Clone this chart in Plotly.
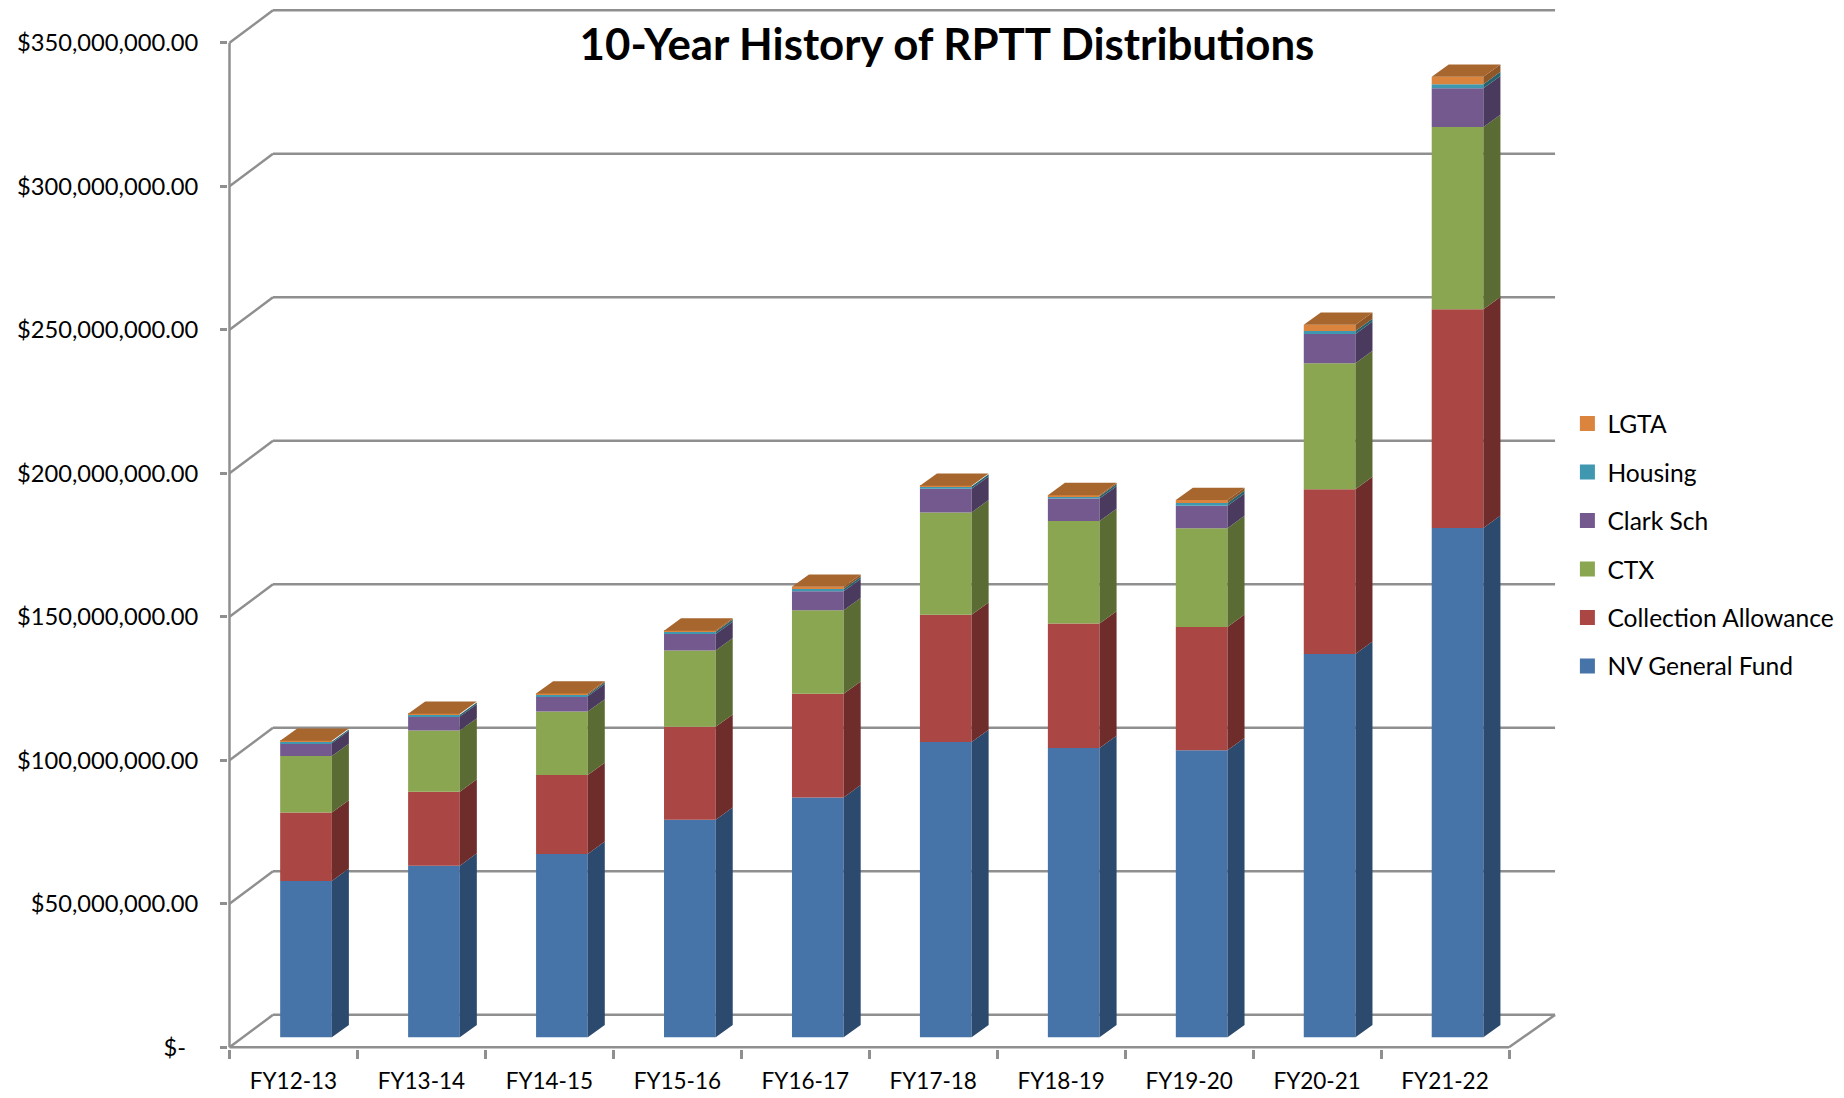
import plotly.graph_objects as go

categories = ["FY12-13", "FY13-14", "FY14-15", "FY15-16", "FY16-17",
              "FY17-18", "FY18-19", "FY19-20", "FY20-21", "FY21-22"]

# Values in millions of dollars
nv_general_fund = [54.5, 59.8, 63.9, 75.8, 83.6, 102.9, 100.8, 100.0, 133.6, 177.5]
collection_allowance = [23.8, 25.8, 27.5, 32.4, 36.1, 44.3, 43.4, 43.0, 57.4, 76.2]
ctx = [19.7, 21.3, 22.1, 26.6, 29.1, 35.7, 35.7, 34.4, 43.9, 63.5]
clark_sch = [4.5, 4.9, 5.3, 5.7, 6.6, 8.2, 7.8, 7.8, 10.2, 13.5]
housing = [0.5, 0.6, 0.6, 0.8, 0.8, 0.8, 0.8, 1.0, 1.0, 1.4]
lgta = [0.3, 0.3, 0.4, 0.4, 0.8, 0.3, 0.4, 1.0, 2.2, 2.6]

series_names = ["NV General Fund", "Collection Allowance", "CTX", "Clark Sch", "Housing", "LGTA"]
series_values = [nv_general_fund, collection_allowance, ctx, clark_sch, housing, lgta]
front_colors = ["#4673A8", "#AA4643", "#8AA650", "#74598F", "#3F98AF", "#DB843D"]
side_colors = ["#2C4A6E", "#6E2D2B", "#5A6C33", "#4A3A5E", "#27626F", "#8F5628"]
top_color = "#A8662F"

axis_values = [0, 50, 100, 150, 200, 250, 300, 350]
axis_labels = ["$-\u00a0\u00a0", "$50,000,000.00", "$100,000,000.00", "$150,000,000.00",
               "$200,000,000.00", "$250,000,000.00", "$300,000,000.00", "$350,000,000.00"]

M = 1e6
GRID = "#8F8F8F"
FONT = "Lato, 'Open Sans', sans-serif"
WALL_DX, WALL_DY = 0.34, 11.3 * M
WALL_END = 10.36
BAR_LEFT, BAR_WIDTH = 0.396, 0.404
BAR_DX, BAR_DY = 0.133, 4.29 * M
BAR_LIFT = 3.48 * M

fig = go.Figure()
n = len(categories)
bases = [BAR_LIFT] * n

for name, vals, fc, sc in zip(series_names, series_values, front_colors, side_colors):
    vals_d = [v * M for v in vals]
    fig.add_trace(go.Bar(
        x=[i + BAR_LEFT + BAR_WIDTH / 2 for i in range(n)], y=vals_d, base=bases,
        width=BAR_WIDTH, marker=dict(color=fc, line=dict(width=0)),
        name=name, legendgroup=name, showlegend=False,
    ))
    sx, sy = [], []
    for i in range(n):
        xr = i + BAR_LEFT + BAR_WIDTH
        y0, y1 = bases[i], bases[i] + vals_d[i]
        sx += [xr, xr + BAR_DX, xr + BAR_DX, xr, xr, None]
        sy += [y0, y0 + BAR_DY, y1 + BAR_DY, y1, y0, None]
    fig.add_trace(go.Scatter(
        x=sx, y=sy, mode="lines", fill="toself", fillcolor=sc, line=dict(width=0),
        hoverinfo="skip", showlegend=False, legendgroup=name,
    ))
    bases = [b + d for b, d in zip(bases, vals_d)]

tx, ty = [], []
for i in range(n):
    xl = i + BAR_LEFT
    xr = xl + BAR_WIDTH
    y = bases[i]
    tx += [xl, xr, xr + BAR_DX, xl + BAR_DX, xl, None]
    ty += [y, y, y + BAR_DY, y + BAR_DY, y, None]
fig.add_trace(go.Scatter(
    x=tx, y=ty, mode="lines", fill="toself", fillcolor=top_color, line=dict(width=0),
    hoverinfo="skip", showlegend=False, legendgroup="LGTA",
))

# Legend entries, top to bottom
for name, fc in reversed(list(zip(series_names, front_colors))):
    fig.add_trace(go.Scatter(
        x=[None], y=[None], mode="markers", name=name, legendgroup=name,
        marker=dict(symbol="square", size=15, color=fc, line=dict(width=0)),
    ))

# Walls, floor and gridlines
line = dict(color=GRID, width=2.5)
shapes = []
def seg(x0, y0, x1, y1):
    shapes.append(dict(type="line", xref="x", yref="y", x0=x0, y0=y0, x1=x1, y1=y1,
                       line=line, layer="below"))
for v in axis_values:
    seg(0, v * M, WALL_DX, v * M + WALL_DY)
    seg(WALL_DX, v * M + WALL_DY, WALL_END, v * M + WALL_DY)
seg(0, 0, 0, axis_values[-1] * M)
seg(0, 0, 10, 0)
seg(10, 0, WALL_END, WALL_DY)

L, R, T, B = 228, 1565, 5, 1049
PX_X = 127.95
PX_Y = 143.5 / (50 * M)
fig.update_layout(
    width=1844, height=1098, autosize=False,
    margin=dict(l=L, r=1844 - R, t=T, b=1098 - B, pad=0),
    paper_bgcolor="white", plot_bgcolor="white",
    barmode="overlay", shapes=shapes,
    font=dict(family=FONT, size=23.7, color="black"),
    title=dict(text="<b>10-Year History of RPTT Distributions</b>",
               font=dict(family=FONT, size=43.8, color="black"),
               x=947 / 1844, xref="container", xanchor="center",
               y=1 - 45 / 1098, yref="container", yanchor="middle"),
    xaxis=dict(range=[(L - 229.5) / PX_X, (R - 229.5) / PX_X], showgrid=False, zeroline=False,
               showline=False, tickmode="array", tickvals=[i + 0.5 for i in range(n)],
               ticktext=categories, ticks="", ticklabelstandoff=16, automargin=False,
               tickfont=dict(size=22.5),
               minor=dict(tickmode="array", tickvals=list(range(n + 1)), ticks="outside",
                          ticklen=9, tickwidth=2.5, tickcolor=GRID, showgrid=False)),
    yaxis=dict(range=[(1047.3 - B) / PX_Y, (1047.3 - T) / PX_Y], showgrid=False, zeroline=False,
               showline=False, tickmode="array", tickvals=[v * M for v in axis_values],
               ticktext=axis_labels, ticks="outside", ticklen=7, tickwidth=2.5, tickcolor=GRID,
               ticklabelstandoff=17, automargin=False, tickfont=dict(size=23.7)),
    legend=dict(x=(1567.4 - L) / (R - L), xanchor="left", y=(B - 401) / (B - T), yanchor="top",
                tracegroupgap=13.5, traceorder="grouped", itemsizing="trace",
                font=dict(size=24.6), bgcolor="rgba(0,0,0,0)", itemclick=False, itemdoubleclick=False),
    hovermode="closest",
)

fig.write_html("out.html", config={"displayModeBar": False},
               post_script="document.body.style.margin='0';document.body.style.overflow='hidden';")
